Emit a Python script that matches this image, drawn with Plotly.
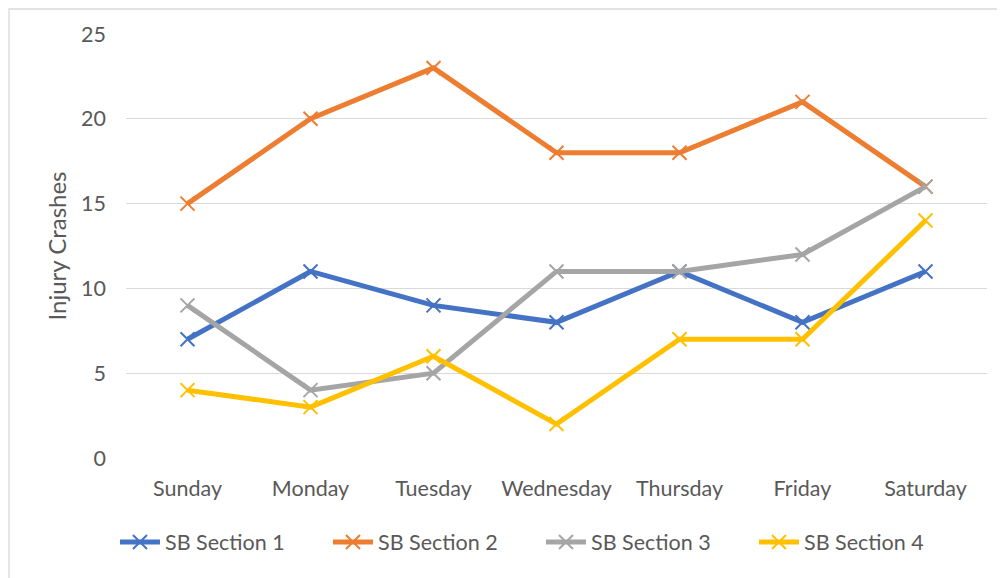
import plotly.graph_objects as go

days = ["Sunday", "Monday", "Tuesday", "Wednesday", "Thursday", "Friday", "Saturday"]
section1 = [7, 11, 9, 8, 11, 8, 11]
section2 = [15, 20, 23, 18, 18, 21, 16]
section3 = [9, 4, 5, 11, 11, 12, 16]
section4 = [4, 3, 6, 2, 7, 7, 14]
names = ["SB Section 1", "SB Section 2", "SB Section 3", "SB Section 4"]
colors = ["#4472C4", "#ED7D31", "#A5A5A5", "#FFC000"]
series = [section1, section2, section3, section4]

FONT = "Lato"
fig = go.Figure()
for name, vals, c in zip(names, series, colors):
    fig.add_trace(go.Scatter(
        x=days, y=vals, name=name, mode="lines+markers",
        line=dict(color=c, width=5),
        marker=dict(symbol="x-thin", size=14, line=dict(color=c, width=2)),
    ))

fig.update_layout(
    width=1005, height=578,
    margin=dict(l=118, r=26, t=26, b=128),
    paper_bgcolor="white", plot_bgcolor="white",
    font=dict(family=FONT, size=21.5, color="#595959"),
    showlegend=True,
    legend=dict(orientation="h", x=-0.0128, xanchor="left",
                y=-0.198, yanchor="middle",
                font=dict(size=21.5, color="#595959"), entrywidth=158, itemwidth=40),
    xaxis=dict(showgrid=False, zeroline=False, showline=False, ticks="", automargin=False,
               tickangle=0, ticklabelstandoff=15, range=[-0.5, 6.5]),
    yaxis=dict(range=[0, 25], dtick=5, showgrid=True, gridcolor="#D9D9D9", gridwidth=1.3,
               zeroline=False, showline=False, ticks="", ticklabelstandoff=19, automargin=False,
               title=dict(text="Injury Crashes", font=dict(size=24, color="#595959"), standoff=7)),
    shapes=[dict(type="rect", xref="paper", yref="paper",
                 x0=-117 / 861, x1=1.05, y0=-0.35, y1=1 + 25 / 424,
                 line=dict(color="#D9D9D9", width=1.3), fillcolor="rgba(0,0,0,0)", layer="below")],
)
fig.write_html("out.html")
